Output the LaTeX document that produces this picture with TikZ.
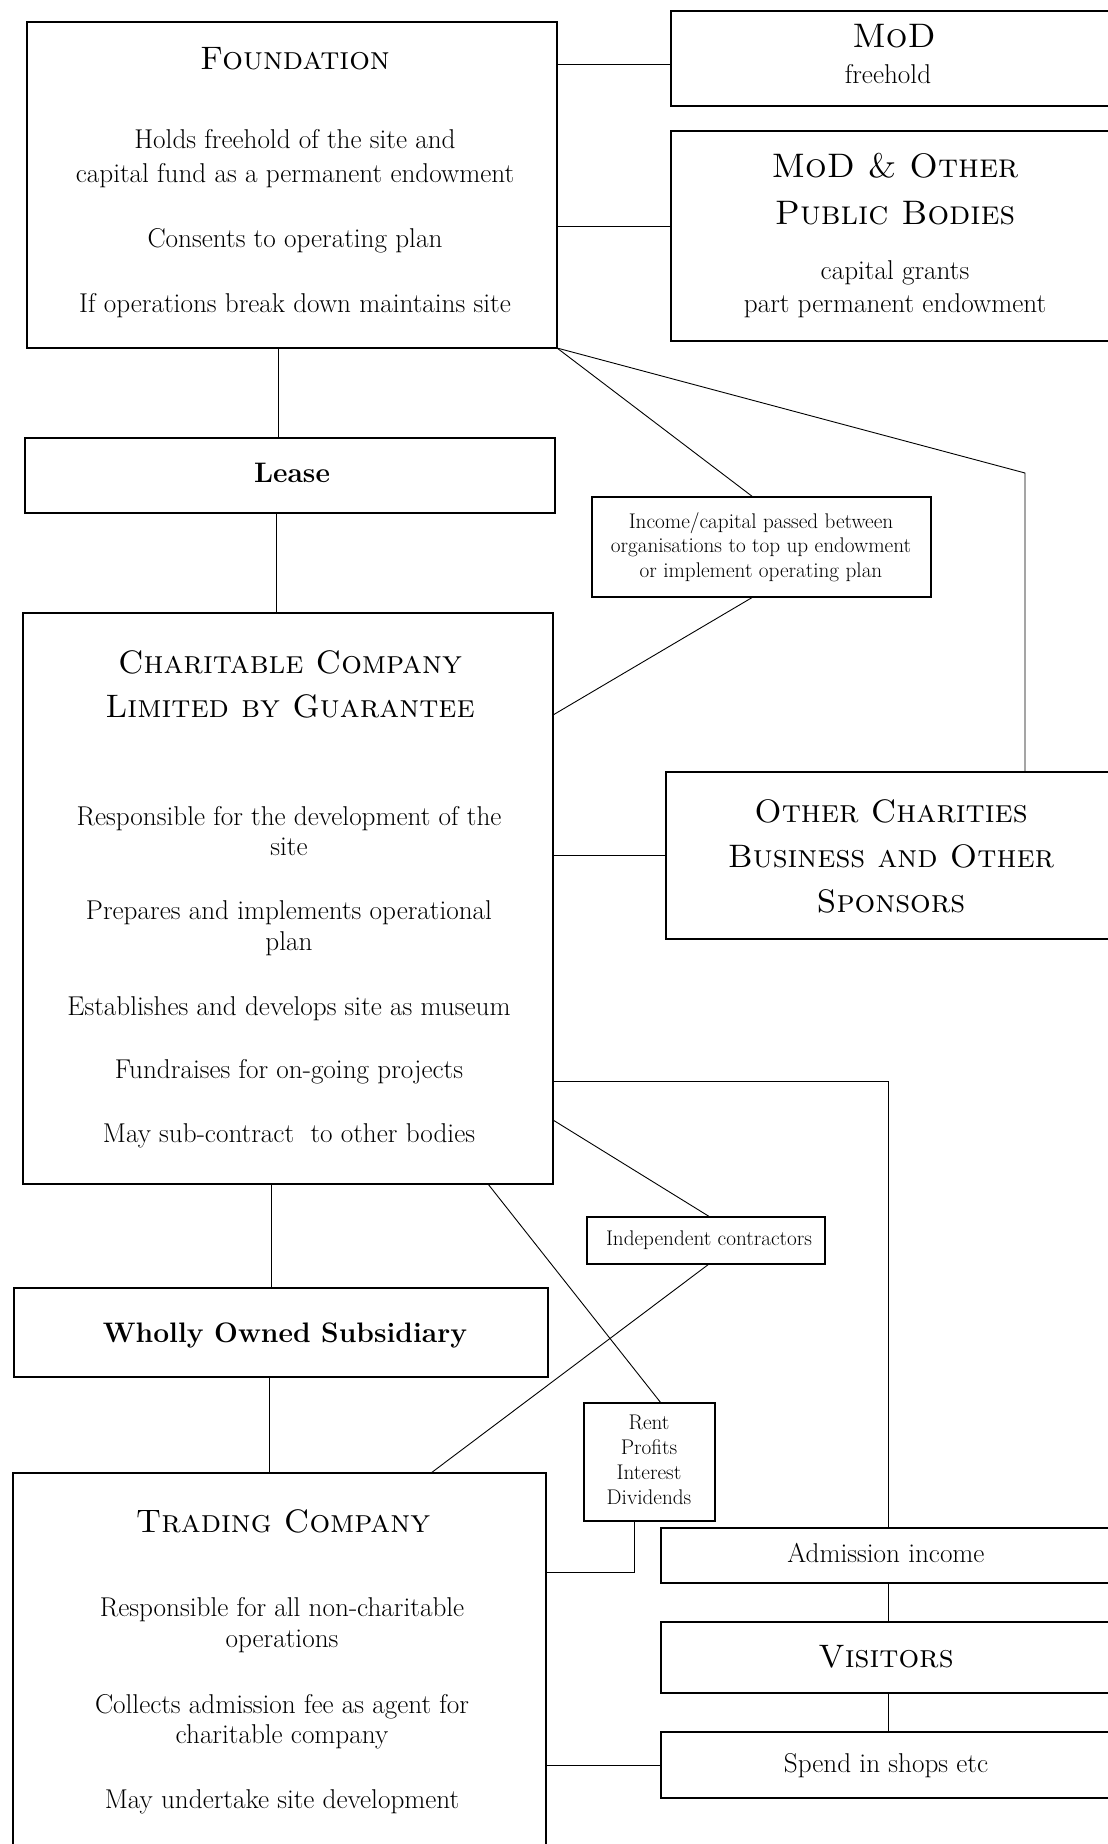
\documentclass[tikz,border=0pt]{standalone}
\usetikzlibrary{calc}

\begin{document}
\begin{tikzpicture}[x=1pt,y=-1pt]
	\tikzset{%
		orgbox/.style={draw,line width=1.3pt,inner sep=0pt,outer sep=0pt},
		wire/.style={line width=0.9pt},
		headtxt/.style={font=\fontsize{32.5}{40}\selectfont\scshape,inner sep=0pt},
		bigheadtxt/.style={font=\fontsize{34}{42}\selectfont\scshape,inner sep=0pt},
		bodytxt/.style={font=\fontsize{27.2}{33}\selectfont,inner sep=0pt},
		smalltxt/.style={font=\fontsize{21.2}{25}\selectfont,inner sep=0pt},
		boldtxt/.style={font=\fontsize{28.2}{33}\selectfont\bfseries,inner sep=0pt},
	}

	% box from its corners: name, x1, y1, x2, y2
	\newcommand*{\orgbox}[5]{%
	\node[orgbox,minimum width={#4pt-#2pt},minimum height={#5pt-#3pt}] (#1) at ({(#2+#4)/2},{(#3+#5)/2}) {};
	}
	% one line of text on its baseline: name, style, x, y, text
	\newcommand*{\putline}[5]{%
	\node[#2,anchor=base] (#1) at (#3,#4) {#5};
	}

	\useasboundingbox (0,0) rectangle (1108,1844);
	\clip (0,0) rectangle (1108,1844);

	\orgbox{found}{27}{22}{557}{348}
	\orgbox{mod}{671}{11}{1116}{106}
	\orgbox{modpub}{671}{131}{1118}{341}
	\orgbox{lease}{25}{438}{555}{513}
	\orgbox{income}{592}{497}{931}{597}
	\orgbox{charit}{23}{613}{553}{1184}
	\orgbox{other}{666}{772}{1116}{939}
	\orgbox{indep}{587}{1217}{825}{1264}
	\orgbox{wholly}{14}{1288}{548}{1377}
	\orgbox{rent}{584}{1403}{715}{1521}
	\orgbox{trading}{13}{1473}{546}{1852}
	\orgbox{admission}{661}{1528}{1116}{1583}
	\orgbox{visitors}{661}{1622}{1116}{1693}
	\orgbox{spend}{661}{1732}{1116}{1798}

	\putline{found-t}{headtxt}{295}{70}{Foundation}
	\putline{found-1}{bodytxt}{295}{148}{Holds freehold of the site and}
	\putline{found-2}{bodytxt}{295}{182}{capital fund as a permanent endowment}
	\putline{found-3}{bodytxt}{295}{247}{Consents to operating plan}
	\putline{found-4}{bodytxt}{295}{312}{If operations break down maintains site}

	\putline{mod-t}{bigheadtxt}{894}{48}{MoD}
	\putline{mod-1}{bodytxt}{888}{83}{freehold}

	\putline{modpub-t1}{bigheadtxt}{895}{177}{MoD \& Other}
	\putline{modpub-t2}{bigheadtxt}{895}{224}{Public Bodies}
	\putline{modpub-1}{bodytxt}{895}{279}{capital grants}
	\putline{modpub-2}{bodytxt}{895}{312}{part permanent endowment}

	\putline{lease-t}{boldtxt}{292}{482}{Lease}

	\putline{income-1}{smalltxt}{761}{528}{Income/capital passed between}
	\putline{income-2}{smalltxt}{761}{552}{organisations to top up endowment}
	\putline{income-3}{smalltxt}{761}{577}{or implement operating plan}

	\putline{charit-t1}{headtxt}{290}{673}{Charitable Company}
	\putline{charit-t2}{headtxt}{290}{717}{Limited by Guarantee}
	\putline{charit-1}{bodytxt}{289}{825}{Responsible for the development of the}
	\putline{charit-2}{bodytxt}{289}{855}{site}
	\putline{charit-3}{bodytxt}{289}{919}{Prepares and implements operational}
	\putline{charit-4}{bodytxt}{289}{950}{plan}
	\putline{charit-5}{bodytxt}{289}{1015}{Establishes and develops site as museum}
	\putline{charit-6}{bodytxt}{289}{1078}{Fundraises for on-going projects}
	\putline{charit-7}{bodytxt}{289}{1142}{May sub-contract\ \ to other bodies}

	\putline{other-t1}{headtxt}{891}{822}{Other Charities}
	\putline{other-t2}{headtxt}{891}{867}{Business and Other}
	\putline{other-t3}{headtxt}{891}{912}{Sponsors}

	\putline{indep-1}{smalltxt}{709}{1245}{Independent contractors}

	\putline{wholly-t}{boldtxt}{285}{1342}{Wholly Owned Subsidiary}

	\putline{rent-1}{smalltxt}{649}{1429}{Rent}
	\putline{rent-2}{smalltxt}{649}{1454}{Profits}
	\putline{rent-3}{smalltxt}{649}{1479}{Interest}
	\putline{rent-4}{smalltxt}{649}{1504}{Dividends}

	\putline{trading-t}{headtxt}{283}{1532}{Trading Company}
	\putline{trading-1}{bodytxt}{282}{1616}{Responsible for all non-charitable}
	\putline{trading-2}{bodytxt}{282}{1647}{operations}
	\putline{trading-3}{bodytxt}{282}{1713}{Collects admission fee as agent for}
	\putline{trading-4}{bodytxt}{282}{1743}{charitable company}
	\putline{trading-5}{bodytxt}{282}{1808}{May undertake site development}

	\putline{admission-1}{bodytxt}{886}{1562}{Admission income}
	\putline{visitors-t}{headtxt}{886}{1667}{Visitors}
	\putline{spend-1}{bodytxt}{886}{1772}{Spend in shops etc}

	% connectors
	\coordinate (j1) at ($(mod.west)+(0,5.5)$);
	\coordinate (j2) at ($(modpub.west)+(0,-10)$);
	\coordinate (j3) at ($(lease.north)+(-12,0)$);
	\coordinate (j4) at ($(charit.north)+(-12,0)$);
	\coordinate (j5) at ($(wholly.north)+(-10,0)$);
	\coordinate (j6) at ($(trading.north)+(-10.5,0)$);
	\coordinate (bend) at (1025,473);

	\draw[wire] (j1) -- (j1 -| found.east);
	\draw[wire] (j2) -- (j2 -| found.east);
	\draw[wire] (j3) -- (j3 |- found.south);
	\draw[wire] (j4) -- (j4 |- lease.south);
	\draw[wire] (found.south east) -- ($(income.north)+(-8.5,0)$);
	\draw[wire] (found.south east) -- (bend) -- (bend |- other.north);
	\draw[wire] ($(income.south)+(-8.5,0)$) -- ($(charit.north east)+(0,102)$);
	\draw[wire] (other.west) -- (other.west -| charit.east);
	\draw[wire] ($(charit.north east)+(0,468)$) -| (admission.north);
	\draw[wire] ($(charit.north east)+(0,507)$) -- ($(indep.north)+(4,0)$);
	\draw[wire] ($(charit.south)+(200,0)$) -- ($(rent.north)+(11.5,0)$);
	\draw[wire] ($(indep.south)+(3,0)$) -- ($(trading.north)+(151.5,0)$);
	\draw[wire] (j5) -- (j5 |- charit.south);
	\draw[wire] (j6) -- (j6 |- wholly.south);
	\draw[wire] ($(rent.south)+(-15.5,0)$) |- ($(trading.north east)+(0,99)$);
	\draw[wire] (admission.south) -- (visitors.north);
	\draw[wire] (visitors.south) -- (spend.north);
	\draw[wire] (spend.west) -- (spend.west -| trading.east);
\end{tikzpicture}
\end{document}
